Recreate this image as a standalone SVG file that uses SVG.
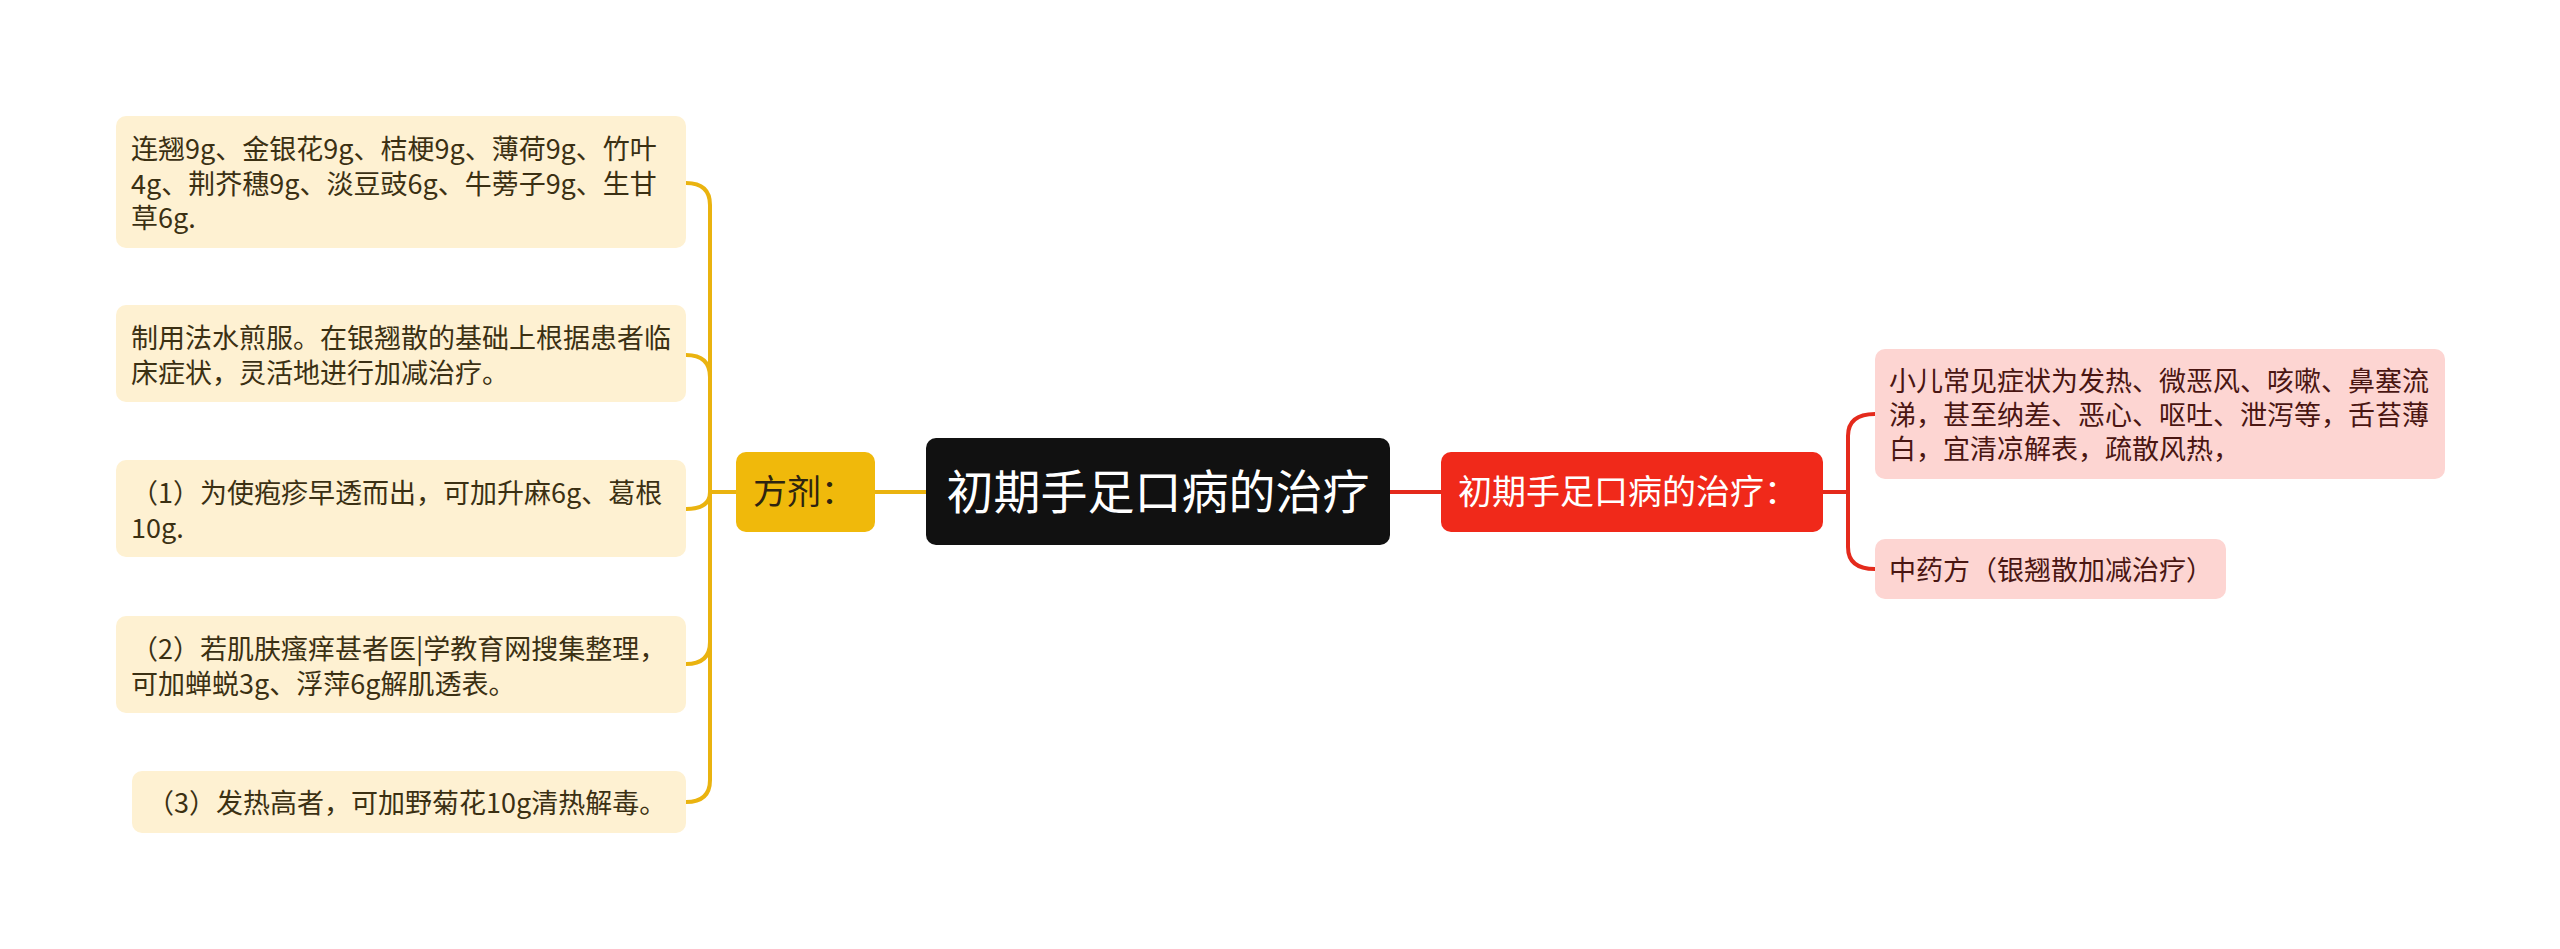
<svg xmlns="http://www.w3.org/2000/svg" width="2560" height="949" viewBox="0 0 2560 949">
<style>
text{font-family:"Noto Sans CJK SC","Noto Sans",sans-serif;}
.lb{fill:#FEF1D2;}
.lt{font-size:27px;fill:#3B3013;}
.rb{fill:#FDD5D2;}
.rt{font-size:27px;fill:#4A1612;}
.yl{fill:none;stroke:#EAB30F;stroke-width:4;}
.rl{fill:none;stroke:#E42A1C;stroke-width:4;}
</style>
<rect width="2560" height="949" fill="#FFFFFF"/>
<g id="connectors">
<path class="yl" d="M926 492H875M736 492H710"/>
<path class="yl" d="M710 492V205Q710 183 686 183"/>
<path class="yl" d="M710 492V377Q710 355 686 355"/>
<path class="yl" d="M710 492Q710 509 686 509"/>
<path class="yl" d="M710 492V642Q710 664 686 664"/>
<path class="yl" d="M710 492V780Q710 802 686 802"/>
<path class="rl" d="M1390 492H1441M1823 492H1848"/>
<path class="rl" d="M1848 492V436Q1848 414 1875 414"/>
<path class="rl" d="M1848 492V547Q1848 569 1875 569"/>
</g>
<g id="center">
<rect x="926" y="438" width="464" height="107" rx="10" fill="#111111"/>
<text x="1158" y="509" font-size="47" fill="#FFFFFF" text-anchor="middle">初期手足口病的治疗</text>
</g>
<g id="fangji">
<rect x="736" y="452" width="139" height="80" rx="10" fill="#F0B90B"/>
<text x="753" y="504" font-size="34" fill="#2E2410">方剂：</text>
</g>
<g id="treat">
<rect x="1441" y="452" width="382" height="80" rx="10" fill="#F0291A"/>
<text x="1458" y="504" font-size="34" fill="#FFFFFF">初期手足口病的治疗：</text>
</g>
<g id="n1">
<rect class="lb" x="116" y="116" width="570" height="132" rx="10"/>
<text class="lt" x="131" y="159">连翘9g、金银花9g、桔梗9g、薄荷9g、竹叶</text>
<text class="lt" x="131" y="193.5">4g、荆芥穗9g、淡豆豉6g、牛蒡子9g、生甘</text>
<text class="lt" x="131" y="228">草6g.</text>
</g>
<g id="n2">
<rect class="lb" x="116" y="305" width="570" height="97" rx="10"/>
<text class="lt" x="131" y="348">制用法水煎服。在银翘散的基础上根据患者临</text>
<text class="lt" x="131" y="382.5">床症状，灵活地进行加减治疗。</text>
</g>
<g id="n3">
<rect class="lb" x="116" y="460" width="570" height="97" rx="10"/>
<text class="lt" x="131" y="503">（1）为使疱疹早透而出，可加升麻6g、葛根</text>
<text class="lt" x="131" y="537.5">10g.</text>
</g>
<g id="n4">
<rect class="lb" x="116" y="616" width="570" height="97" rx="10"/>
<text class="lt" x="131" y="659">（2）若肌肤瘙痒甚者医|学教育网搜集整理，</text>
<text class="lt" x="131" y="693.5">可加蝉蜕3g、浮萍6g解肌透表。</text>
</g>
<g id="n5">
<rect class="lb" x="132" y="771" width="554" height="62" rx="10"/>
<text class="lt" x="147" y="813">（3）发热高者，可加野菊花10g清热解毒。</text>
</g>
<g id="r1">
<rect class="rb" x="1875" y="349" width="570" height="130" rx="10"/>
<text class="rt" x="1889" y="391">小儿常见症状为发热、微恶风、咳嗽、鼻塞流</text>
<text class="rt" x="1889" y="425">涕，甚至纳差、恶心、呕吐、泄泻等，舌苔薄</text>
<text class="rt" x="1889" y="459">白，宜清凉解表，疏散风热，</text>
</g>
<g id="r2">
<rect class="rb" x="1875" y="539" width="351" height="60" rx="10"/>
<text class="rt" x="1889" y="580">中药方（银翘散加减治疗）</text>
</g>
</svg>
